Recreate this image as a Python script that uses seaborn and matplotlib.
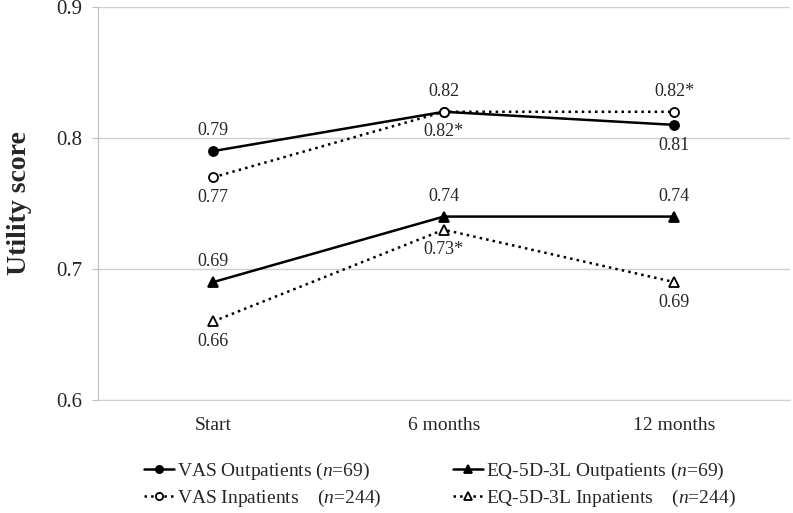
import matplotlib
matplotlib.use('Agg')
import matplotlib.pyplot as plt
import seaborn as sns
import pandas as pd

# data
timepoints = ['Start', '6 months', '12 months']
vas_out = [0.79, 0.82, 0.81]
vas_in = [0.77, 0.82, 0.82]
eq_out = [0.69, 0.74, 0.74]
eq_in = [0.66, 0.73, 0.69]
vas_out_labels = ['0.79', '0.82', '0.81']
vas_in_labels = ['0.77', '0.82*', '0.82*']
eq_out_labels = ['0.69', '0.74', '0.74']
eq_in_labels = ['0.66', '0.73*', '0.69']

sns.set_style('white')
plt.rcParams['font.family'] = ['Liberation Serif', 'DejaVu Serif']
plt.rcParams['mathtext.fontset'] = 'custom'
plt.rcParams['mathtext.rm'] = 'Liberation Serif'
plt.rcParams['mathtext.it'] = 'Liberation Serif:italic'

fig = plt.figure(figsize=(7.93, 5.13), dpi=100)
ax = fig.add_axes([0.1236, 0.2203, 0.872, 0.7661])

series = [
    # values, labels, name, marker, linestyle, facecolor, label offsets (up/down)
    (vas_out, vas_out_labels, r'VAS Outpatients ($\mathit{n}$=69)', 'o', '-', 'black', [1, 1, -1]),
    (vas_in, vas_in_labels, r'VAS Inpatients    ($\mathit{n}$=244)', 'o', ':', 'white', [-1, -1, 1]),
    (eq_out, eq_out_labels, r'EQ-5D-3L Outpatients ($\mathit{n}$=69)', '^', '-', 'black', [1, 1, 1]),
    (eq_in, eq_in_labels, r'EQ-5D-3L Inpatients    ($\mathit{n}$=244)', '^', ':', 'white', [-1, -1, -1]),
]

for vals, labs, name, mk, ls, fc, offs in series:
    df = pd.DataFrame({'time': timepoints, 'score': vals})
    sns.lineplot(data=df, x='time', y='score', ax=ax, sort=False, color='black',
                 linestyle=ls, linewidth=1.8, marker=mk, markersize=6.5 if mk == 'o' else 7,
                 markerfacecolor=fc, markeredgecolor='black', markeredgewidth=1.3,
                 label=name)
    for i, (v, t) in enumerate(zip(vals, labs)):
        ax.annotate(t, (i, v), xytext=(0, 14.5 * offs[i]), textcoords='offset points',
                    ha='center', va='center', fontsize=13)

ax.set_xlim(-0.5, 2.5)
ax.set_ylim(0.6, 0.9)
ax.set_yticks([0.6, 0.7, 0.8, 0.9])
ax.set_yticklabels(['0.6', '0.7', '0.8', '0.9'])
ax.yaxis.grid(True, color='#d0d0d0', linewidth=1)
ax.tick_params(axis='y', length=4.5, color='#bfbfbf', labelsize=15, pad=6.5, left=True)
ax.tick_params(axis='x', length=0, labelsize=14, pad=12)
sns.despine(ax=ax, top=True, right=True)
ax.spines['left'].set_color('#bfbfbf')
ax.spines['bottom'].set_color('#d0d0d0')
ax.set_xlabel('')
ax.set_ylabel('Utility score', fontsize=20, fontweight='bold', labelpad=18)

handles, labels = ax.get_legend_handles_labels()
ax.legend(handles, labels, ncol=2, frameon=False, fontsize=14, markerscale=0.8,
          loc='center', bbox_to_anchor=(0.555, 0.0546), bbox_transform=fig.transFigure,
          handlelength=1.55, handletextpad=0.15, columnspacing=3.7, labelspacing=0.3)

fig.savefig('out.png', dpi=100)
